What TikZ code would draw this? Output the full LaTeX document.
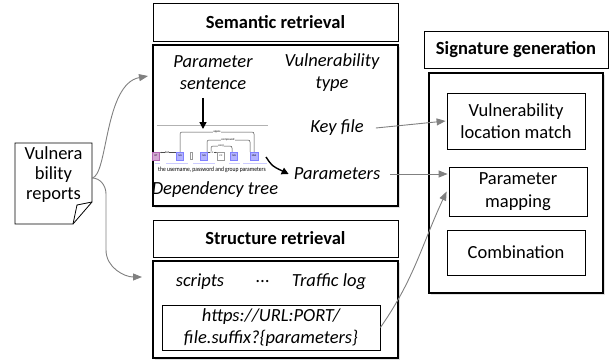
\documentclass[tikz,border=0pt]{standalone}
\usepackage{fontspec}
\setmainfont{Carlito}
\usetikzlibrary{arrows.meta,shadows}
\begin{document}
\begin{tikzpicture}[x=1pt,y=-1pt,
  every node/.style={font=\fontsize{18.5}{22.5}\selectfont, align=center, inner sep=0pt},
  it/.style={font=\fontsize{18.5}{22.5}\selectfont\itshape},
  titlebox/.style={draw, line width=0.8pt},
  bodybox/.style={draw, line width=1.4pt, drop shadow={shadow xshift=1.5pt, shadow yshift=-1.5pt, fill=black!12, opacity=1}, fill=white},
  innerbox/.style={draw, line width=0.8pt},
  garrow/.style={draw=black!50, line width=0.9pt, -{Triangle[length=9pt,width=7pt]}},
  barrow/.style={draw=black, line width=1.4pt, -{Triangle[length=7pt,width=7pt]}},
  tag/.style={draw=blue!50, fill=blue!30, line width=0.3pt, minimum width=7pt, minimum height=8pt, font=\fontsize{2.5}{2.5}\selectfont},
  tiny/.style={font=\fontsize{3}{3}\selectfont, fill=white, inner sep=0.3pt},
]
\useasboundingbox (0,0) rectangle (613,362);

% Semantic retrieval
\node[titlebox, minimum width=245pt, minimum height=38pt] (semT) at (275.5,22) {\bfseries Semantic retrieval};
\node[bodybox, minimum width=245pt, minimum height=161pt] (semB) at (275.5,125.5) {};

% Structure retrieval
\node[titlebox, minimum width=245pt, minimum height=37pt] (strT) at (275.5,238.5) {\bfseries Structure retrieval};
\node[bodybox, minimum width=245pt, minimum height=97pt] (strB) at (275.5,309.5) {};
\node[innerbox, minimum width=218pt, minimum height=45pt, it] (url) at (271,327.5) {https://URL:PORT/\\file.suffix?\{parameters\}};
\node[it] (scr) at (200,282) {scripts};
\node[it] (dots) at (263,282) {...};
\node[it] (tl) at (329,282) {Traffic log};

% Signature generation
\node[titlebox, minimum width=184pt, minimum height=37pt] (sigT) at (516,49.5) {\bfseries Signature generation};
\node[bodybox, minimum width=174pt, minimum height=220pt] (sigB) at (516,183) {};
\node[innerbox, minimum width=138pt, minimum height=56pt] (vlm) at (516,121) {Vulnerability\\location match};
\node[innerbox, minimum width=138pt, minimum height=49pt] (pm) at (518,191.5) {Parameter\\mapping};
\node[innerbox, minimum width=138pt, minimum height=45pt] (comb) at (516,252.5) {Combination};

% Vulnerability reports (document shape)
\draw[line width=0.8pt, fill=white] (15,143) -- (92,143) -- (92,202) -- (73,224) -- (15,224) -- cycle;
\draw[line width=0.8pt] (73,224) -- (77,205) -- (92,202);
\node[font=\fontsize{18.5}{20}\selectfont] (rep) at (53.5,175) {Vulnera\\bility\\reports};
\coordinate (repE) at (92,178);

% semantic contents
\node[it] (ps) at (213,72.5) {Parameter\\sentence};
\node[it] (vt) at (332,72.5) {Vulnerability\\type};
\node[it] (kf) at (337,128) {Key file};
\node[it] (par) at (337,174) {Parameters};
\node[it] (dt) at (215,190) {Dependency tree};
\node[minimum width=112pt, minimum height=52pt] (dep) at (212,151) {};

% dependency tree picture
\draw[black!30, line width=0.4pt] (157,125) -- (268,125);
\draw[black!70, line width=0.5pt, rounded corners=2pt] (180,152) -- (180,132) -- (254,132) -- (254,152);
\node[tiny] at (217,132) {appos};
\draw[black!70, line width=0.5pt, rounded corners=2pt] (207,152) -- (207,140) -- (250,140) -- (250,152);
\node[tiny] at (228,140) {compound};
\draw[black!70, line width=0.5pt, rounded corners=2pt] (211,152) -- (211,146) -- (232,146) -- (232,152);
\node[tiny] at (221,146) {conj};
\draw[black!70, line width=0.4pt, -{Stealth[length=1.5pt]}] (207,152.5) -- (217,152.5);
\node[tiny] at (212,152.5) {cc};
\draw[black!70, line width=0.4pt, -{Stealth[length=1.5pt]}] (176,152.5) -- (160,152.5);
\node[tiny] at (167,152.5) {det};
\node[tag, draw=violet!60, fill=violet!35] at (156,156) {DT};
\node[tag] at (180,156) {NN};
\node[draw=black!40, minimum width=1.5pt, minimum height=7pt, line width=0.3pt] at (191,156) {};
\node[tag] at (204,156) {NN};
\node[tag, draw=black!40, fill=white] at (221,156) {CC};
\node[tag] at (234,156) {NN};
\node[tag, minimum width=8pt] at (254,156) {NNS};
\draw[blue!20, line width=1pt] (155,163) -- (160,163) (166,163) -- (188,163) (193,163) -- (215,163) (229,163) -- (240,163) (243,163) -- (267,163);
\node[font=\fontsize{6.5}{6.5}\selectfont] at (212,170) {\scalebox{0.86}[1]{the username, password and group parameters}};

% arrows inside semantic box
\draw[barrow] ([xshift=-10pt, yshift=-8pt]ps.south) -- ([xshift=-10pt, yshift=-8pt]ps.south |- 0,121);
\draw[barrow] (266,157) .. controls (272,166) .. ([xshift=-5pt]par.west);

% gray connectors
\coordinate (semIn) at (148,76);
\coordinate (strIn) at (142,277);
\draw[garrow] (repE) .. controls (108,176) and (104,84) .. (semIn);
\draw[garrow] (repE) to[out=0,in=90] (106,194) -- (106,250) to[out=-90,in=180] (strIn);
\draw[garrow] ([xshift=12pt]kf.east) -- ([xshift=-1pt]vlm.west);
\draw[garrow] ([xshift=10pt]par.east) -- ([xshift=-1pt]par.east -| pm.west);
\draw[garrow] (url.east) to[out=55,in=245] ([xshift=-2pt]pm.west);
\end{tikzpicture}
\end{document}
